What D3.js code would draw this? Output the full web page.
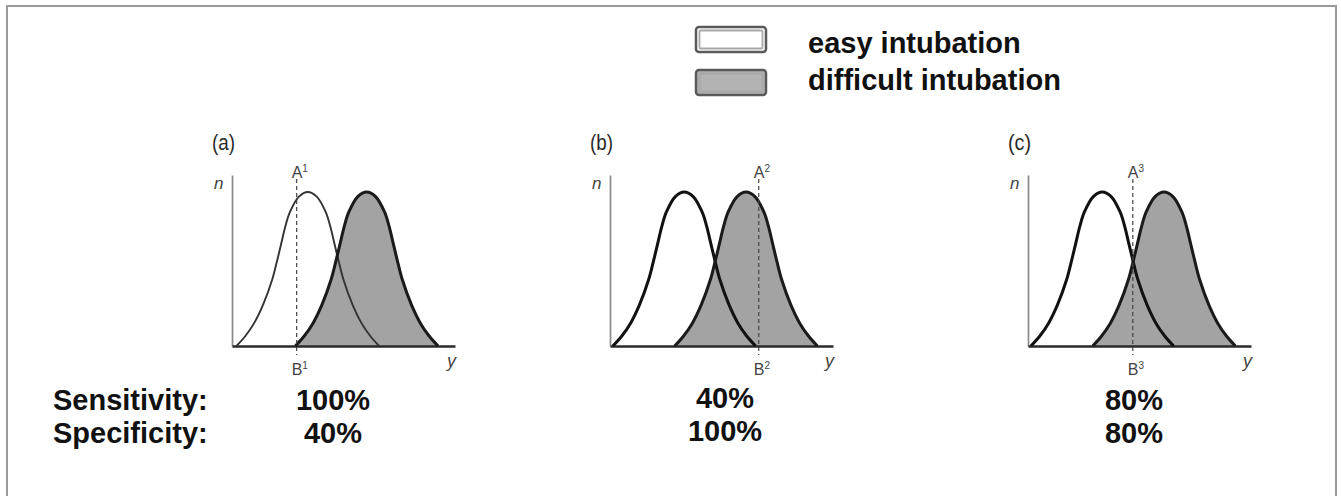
<!DOCTYPE html>
<html>
<head>
<meta charset="utf-8">
<script src="https://cdn.jsdelivr.net/npm/d3@7"></script>
<style>
  html, body { margin: 0; padding: 0; background: #fff; }
  svg { display: block; }
</style>
</head>
<body>
<svg id="chart" width="1341" height="496"></svg>
<script>
// ---------------- data ----------------
const panelLabels = ["(a)", "(b)", "(c)"];
const legendLabels = ["easy intubation", "difficult intubation"];
const easyMeans = [34, 33.3, 33.3];
const difficultMeans = [60.4, 61, 61];
const cutoffs = [29, 66.7, 47];
const cutoffIndex = ["1", "2", "3"];
const sensitivity = ["100%", "40%", "80%"];
const specificity = ["40%", "100%", "80%"];
const rowLabels = ["Sensitivity:", "Specificity:"];
// bell profile: offset from peak (x units) and relative height
const profileOffsets = [-32, -28, -24, -20, -16, -14, -12, -10, -8, -4, 0, 4, 8, 10, 12, 14, 16, 20, 24, 28, 32];
const profileHeights = [0, 0.065, 0.15, 0.27, 0.43, 0.54, 0.66, 0.78, 0.87, 0.97, 1, 0.97, 0.87, 0.78, 0.66, 0.54, 0.43, 0.27, 0.15, 0.065, 0];

// ---------------- layout ----------------
const svg = d3.select("#chart");
const panelX = [232, 610, 1028];
const baseY = 346, topY = 175;
const axisLen = 223;
const fillGray = "#a3a3a3";

// frame
svg.append("rect").attr("x", 7).attr("y", 6).attr("width", 1329).attr("height", 600)
  .attr("fill", "none").attr("stroke", "#9a9a9a").attr("stroke-width", 2);

const x = d3.scaleLinear().domain([0, 100]).range([0, axisLen]);
const y = d3.scaleLinear().domain([0, 1.11]).range([baseY, topY]);

const smallFont = "'Liberation Sans Narrow', 'Liberation Sans', Arial, sans-serif";

function curvePts(m) {
  return profileOffsets.map((d, i) => [m + d, profileHeights[i]]);
}
const line = d3.line().x(d => x(d[0])).y(d => y(d[1])).curve(d3.curveCatmullRom.alpha(0.5));
const area = d3.area().x(d => x(d[0])).y0(y(0)).y1(d => y(d[1])).curve(d3.curveCatmullRom.alpha(0.5));

function narrow(sel, w) {
  sel.attr("textLength", w).attr("lengthAdjust", "spacingAndGlyphs");
  return sel;
}

panelLabels.forEach((lab, p) => {
  const g = svg.append("g").attr("transform", `translate(${panelX[p]},0)`);
  // y axis (no ticks)
  const ya = g.append("g").call(d3.axisLeft(y).tickValues([]).tickSizeOuter(0));
  ya.select(".domain").attr("stroke", "#8a8a8a").attr("stroke-width", 1.7);

  // fills
  g.append("path").datum(curvePts(easyMeans[p])).attr("d", area).attr("fill", "#fff");
  g.append("path").datum(curvePts(difficultMeans[p])).attr("d", area).attr("fill", fillGray);

  // x axis baseline
  const xa = g.append("g").attr("transform", `translate(0,${baseY})`)
    .call(d3.axisBottom(x).tickValues([]).tickSizeOuter(0));
  xa.select(".domain").attr("stroke", "#2a2a2a").attr("stroke-width", 2.5);

  // curve outlines
  g.append("path").datum(curvePts(easyMeans[p])).attr("d", line).attr("fill", "none")
    .attr("stroke", p === 0 ? "#333" : "#111").attr("stroke-width", p === 0 ? 1.9 : 3);
  g.append("path").datum(curvePts(difficultMeans[p])).attr("d", line).attr("fill", "none")
    .attr("stroke", "#1a1a1a").attr("stroke-width", 3);

  // cutoff line
  const cx = x(cutoffs[p]);
  g.append("line").attr("x1", cx).attr("x2", cx).attr("y1", 179).attr("y2", 355)
    .attr("stroke", "#444").attr("stroke-width", 1.2).attr("stroke-dasharray", "4,3");

  // labels
  narrow(g.append("text").attr("x", -20).attr("y", 150).text(lab)
    .attr("font-family", smallFont).attr("font-size", 22).attr("fill", "#2a2a2a"), 23);
  g.append("text").attr("x", -18).attr("y", 189).text("n")
    .attr("font-family", smallFont).attr("font-size", 17).attr("font-style", "italic").attr("fill", "#444");
  g.append("text").attr("x", axisLen - 8).attr("y", 367).text("y")
    .attr("font-family", smallFont).attr("font-size", 18).attr("font-style", "italic").attr("fill", "#444");

  const ta = g.append("text").attr("x", cx - 5).attr("y", 178)
    .attr("font-family", smallFont).attr("font-size", 16).attr("fill", "#444");
  ta.append("tspan").text("A");
  ta.append("tspan").attr("dy", -6).attr("font-size", 10).text(cutoffIndex[p]);
  const tb = g.append("text").attr("x", cx - 5).attr("y", 375)
    .attr("font-family", smallFont).attr("font-size", 16).attr("fill", "#444");
  tb.append("tspan").text("B");
  tb.append("tspan").attr("dy", -6).attr("font-size", 10).text(cutoffIndex[p]);
});

// sensitivity / specificity
const boldFont = "'Liberation Sans', Arial, Helvetica, sans-serif";
const rowY = [410, 443];
rowLabels.forEach((t, i) => {
  svg.append("text").attr("x", 53).attr("y", rowY[i]).text(t)
    .attr("font-family", boldFont).attr("font-weight", "bold").attr("font-size", 29).attr("fill", "#111");
});
const pctX = [333, 725, 1134];
panelLabels.forEach((lab, p) => {
  [sensitivity[p], specificity[p]].forEach((v, i) => {
    svg.append("text").attr("x", pctX[p]).attr("y", rowY[i] - (p === 1 ? 2 : 0)).text(v)
      .attr("text-anchor", "middle")
      .attr("font-family", boldFont).attr("font-weight", "bold").attr("font-size", 29).attr("fill", "#111");
  });
});

// legend
const legFill = ["#ffffff", "#b3b3b3"];
const legY = [27, 70];
const legBase = [53, 90];
legendLabels.forEach((t, i) => {
  svg.append("rect").attr("x", 696).attr("y", legY[i]).attr("width", 70).attr("height", 25).attr("rx", 3)
    .attr("fill", legFill[i]).attr("stroke", "#5a5a5a").attr("stroke-width", 2.5);
  svg.append("rect").attr("x", 699.5).attr("y", legY[i] + 3.5).attr("width", 63).attr("height", 18).attr("rx", 1)
    .attr("fill", "none").attr("stroke", "#a8a8a8").attr("stroke-width", 1.8);
  svg.append("text").attr("x", 808).attr("y", legBase[i]).text(t)
    .attr("font-family", boldFont).attr("font-weight", "bold").attr("font-size", 29).attr("fill", "#111");
});
</script>
</body>
</html>
